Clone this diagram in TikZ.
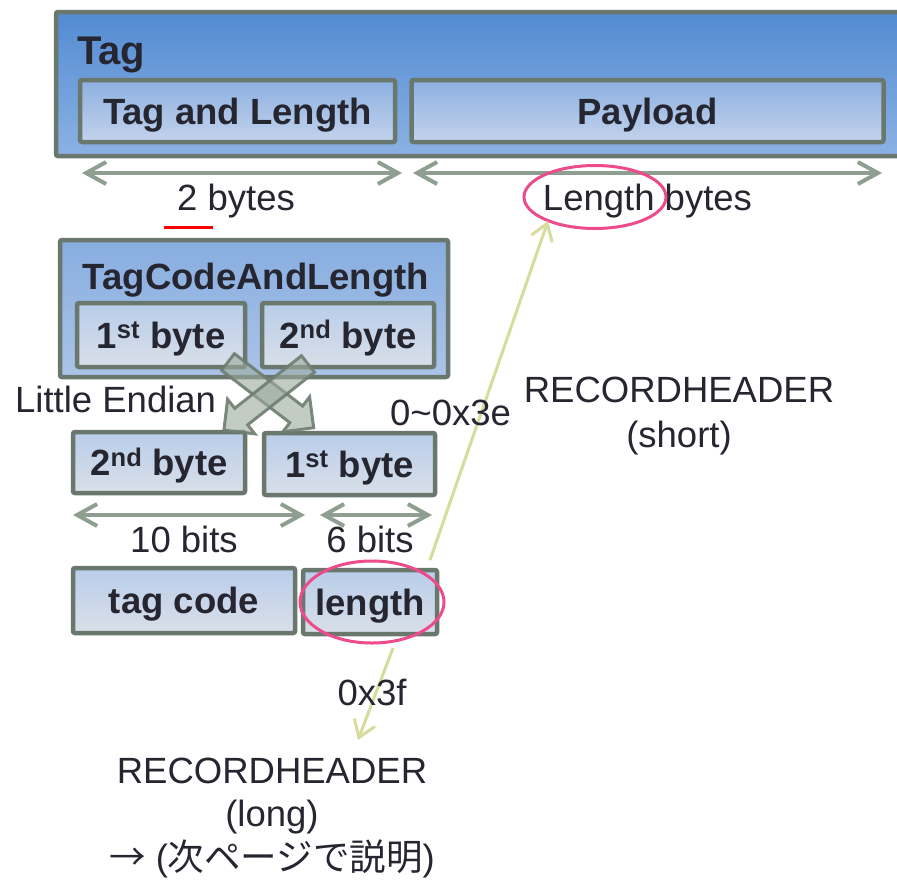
\documentclass[tikz,border=0pt]{standalone}
\usepackage{fontspec}
\setmainfont{Liberation Sans}
\newfontfamily\cjk{Noto Sans CJK JP}
\usetikzlibrary{arrows.meta,shapes.geometric,calc}
\definecolor{bord}{HTML}{6A776C}
\definecolor{txt}{HTML}{262631}
\definecolor{dimc}{HTML}{8E9F92}
\definecolor{pinkc}{HTML}{EE4B8C}
\definecolor{yelc}{HTML}{D7DB9C}
\definecolor{xfill}{HTML}{9AAA9C}
\definecolor{xbord}{HTML}{6E7E70}
\definecolor{outTop}{HTML}{528BD2}
\definecolor{outBot}{HTML}{8CB2E4}
\definecolor{inTop}{HTML}{8CB0E2}
\definecolor{inBot}{HTML}{C3D3EB}
\definecolor{midTop}{HTML}{87ADE0}
\definecolor{midBot}{HTML}{ABC4E8}
\definecolor{byTop}{HTML}{B9CDEA}
\definecolor{byBot}{HTML}{D9DFE8}
\newcommand\myblockarrow[3]{%
  \begin{scope}[shift={(#1)}, rotate=#2]
    \filldraw[xarrow] (0,-10.5) -- (#3-22,-10.5) -- (#3-22,-22) -- (#3,0) -- (#3-22,22) -- (#3-22,10.5) -- (0,10.5) -- cycle;
  \end{scope}}
\tikzset{
  boxbase/.style={draw=bord, line width=4.5pt, rounded corners=2pt, text=txt, inner sep=0pt,
    font=\bfseries\fontsize{36.5}{43}\selectfont, text height=26pt, text depth=0pt},
  outerbox/.style={boxbase, top color=outTop, bottom color=outBot},
  innerbox/.style={boxbase, top color=inTop, bottom color=inBot},
  midbox/.style={boxbase, top color=midTop, bottom color=midBot},
  bytebox/.style={boxbase, top color=byTop, bottom color=byBot},
  lbl/.style={text=txt, inner sep=0pt, font=\fontsize{36.5}{43}\selectfont, anchor=base},
  blbl/.style={lbl, font=\bfseries\fontsize{36.5}{43}\selectfont},
  dimarrow/.style={draw=dimc, line width=4pt, line cap=round,
    {Straight Barb[length=20pt,width=22pt]}-{Straight Barb[length=20pt,width=22pt]}},
  yelarrow/.style={draw=yelc, line width=3pt, -{Straight Barb[length=16pt,width=22pt]}},
  ring/.style={draw=pinkc, line width=3pt, ellipse, inner sep=0pt},
  xarrow/.style={fill=xfill, fill opacity=0.6, draw=xbord, line width=3pt, draw opacity=0.9, line join=miter}
}
\begin{document}
\begin{tikzpicture}[x=1pt,y=-1pt]
\useasboundingbox (0,0) rectangle (897,879);
\clip (0,0) rectangle (897,879);
\fill[white] (0,0) rectangle (897,879);

% Tag box
\node[outerbox, minimum width=849pt, minimum height=144pt] (tag) at (480.5,84) {};
\node[blbl, anchor=base west, font=\bfseries\fontsize{40}{48}\selectfont] (tagt) at (77,64) {Tag};
\node[innerbox, minimum width=315pt, minimum height=62pt] (tl) at (237.5,111) {Tag and Length};
\node[innerbox, minimum width=472pt, minimum height=62pt] (pl) at (647.5,111) {Payload};

% dimension arrows top
\coordinate (d1a) at (82,173); \coordinate (d1b) at (402,173);
\coordinate (d2a) at (413,173); \coordinate (d2b) at (882,173);
\draw[dimarrow] (d1a) -- (d1b);
\draw[dimarrow] (d2a) -- (d2b);
\node[lbl] (twob) at (236,210) {2 bytes};
\coordinate (ru1) at (164,227); \coordinate (ru2) at (213,227);
\draw[red, line width=3pt] (ru1) -- (ru2);
\node[lbl] (lenb) at (647.5,210) {Length bytes};
\node[ring, minimum width=142pt, minimum height=63pt] (ring1) at (595,197) {};

% TagCodeAndLength
\node[midbox, minimum width=388pt, minimum height=137pt] (tcal) at (254,308.5) {};
\node[blbl] (tcalt) at (256,289) {TagCodeAndLength};
\node[bytebox, minimum width=168pt, minimum height=64pt] (b1) at (161,335) {1\textsuperscript{st} byte};
\node[bytebox, minimum width=172pt, minimum height=64pt] (b2) at (348,335) {2\textsuperscript{nd} byte};

% lower bytes
\node[bytebox, minimum width=172pt, minimum height=61pt] (lb2) at (159,462.5) {2\textsuperscript{nd} byte};
\node[bytebox, minimum width=171pt, minimum height=62pt] (lb1) at (349.5,464) {1\textsuperscript{st} byte};

% crossing block arrows
\coordinate (xa) at (228,362);
\coordinate (xb) at (308,364);
\myblockarrow{xa}{-37.5}{108}
\myblockarrow{xb}{-141.8}{107}

\node[lbl, anchor=base west] (le) at (15,412) {Little Endian};

% bits arrows
\coordinate (d3a) at (73,515); \coordinate (d3b) at (305,515);
\coordinate (d4a) at (320,515); \coordinate (d4b) at (432,515);
\draw[dimarrow] (d3a) -- (d3b);
\draw[dimarrow] (d4a) -- (d4b);
\node[lbl] (tenb) at (184,552) {10 bits};
\node[lbl] (sixb) at (370,552) {6 bits};

\node[bytebox, minimum width=222pt, minimum height=65pt] (tc) at (184,600.5) {tag code};
\node[bytebox, minimum width=134pt, minimum height=64pt] (ln) at (370,602) {length};
\node[ring, minimum width=144pt, minimum height=82pt] (ring2) at (372,602) {};

% yellow arrows
\coordinate (ya) at (430,560); \coordinate (yb) at (548,221);
\draw[yelarrow] (ya) -- (yb);
\coordinate (yc) at (393,648); \coordinate (yd) at (358,740);
\draw[yelarrow] (yc) -- (yd);

\node[lbl, anchor=base west] (r1) at (390,425) {0\textasciitilde 0x3e};
\node[lbl] (rs1) at (679,402) {RECORDHEADER};
\node[lbl] (rs2) at (679,447) {(short)};

\node[lbl] (x3f) at (372,705) {0x3f};
\node[lbl] (rl1) at (272,783) {RECORDHEADER};
\node[lbl] (rl2) at (272,826) {(long)};
\node[lbl] (rl3) at (272,870) {{\cjk →} ({\cjk 次ページで説明})};
\end{tikzpicture}
\end{document}
